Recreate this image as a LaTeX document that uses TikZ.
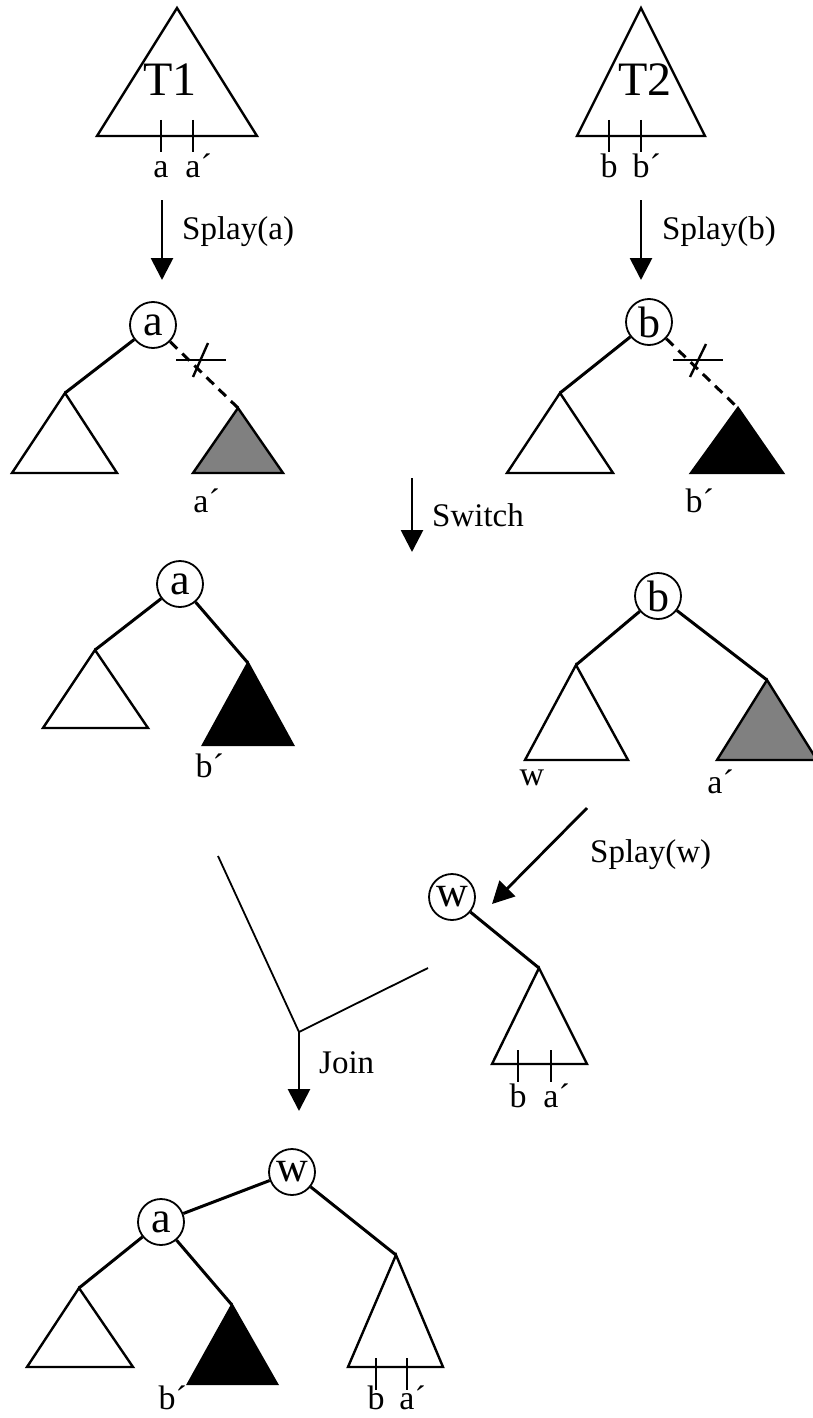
\documentclass[tikz,border=0pt]{standalone}
\usepackage{fontspec}
\setmainfont{Liberation Serif}
\usetikzlibrary{arrows.meta}
\definecolor{midgray}{RGB}{128,128,128}
\begin{document}
\begin{tikzpicture}[x=1pt,y=-1pt,
 tri/.style={line width=2.4pt, line join=miter},
 edge/.style={line width=3pt},
 cut/.style={line width=3pt, dash pattern=on 10pt off 7pt},
 crossmark/.style={line width=2.4pt},
 tick/.style={line width=2.2pt},
 vnode/.style={circle, draw, line width=1.8pt, minimum size=46pt, inner sep=0pt, font=\fontsize{44}{44}\selectfont},
 lbl/.style={font=\fontsize{34}{34}\selectfont, inner sep=0pt, anchor=base},
 big/.style={font=\fontsize{48}{48}\selectfont, inner sep=0pt},
 steparrow/.style={line width=2.8pt, -{Triangle[width=22pt,length=22pt]}},
 op/.style={font=\fontsize{33}{33}\selectfont, inner sep=0pt, anchor=west},
 joinline/.style={line width=1.8pt},
]
\useasboundingbox (0,0) rectangle (812,1418);

% ---------- T1 ----------
\coordinate (t1top) at (177,8);
\draw[tri] (t1top) -- (97,136) -- (257,136) -- cycle;
\node[big] (T1) at (170,80) {T1};
\coordinate (t1k1a) at (161,120); \coordinate (t1k1b) at (161,152);
\coordinate (t1k2a) at (193,120); \coordinate (t1k2b) at (193,152);
\draw[tick] (t1k1a) -- (t1k1b);
\draw[tick] (t1k2a) -- (t1k2b);
\node[lbl] (t1la) at (161,177) {a};
\node[lbl] (t1lb) at (193,177) {a\rlap{´}};

% ---------- T2 ----------
\coordinate (t2top) at (641,8);
\draw[tri] (t2top) -- (577,136) -- (705,136) -- cycle;
\node[big] (T2) at (645,80) {T2};
\coordinate (t2k1a) at (609,120); \coordinate (t2k1b) at (609,152);
\coordinate (t2k2a) at (641,120); \coordinate (t2k2b) at (641,152);
\draw[tick] (t2k1a) -- (t2k1b);
\draw[tick] (t2k2a) -- (t2k2b);
\node[lbl] (t2la) at (609,177) {b};
\node[lbl] (t2lb) at (641,177) {b\rlap{´}};

% ---------- Splay arrows ----------
\coordinate (sa1) at (162,200); \coordinate (sa2) at (162,280);
\draw[steparrow] (sa1) -- (sa2);
\node[op] (sal) at (182,232) {Splay(a)};
\coordinate (sb1) at (641,200); \coordinate (sb2) at (641,280);
\draw[steparrow] (sb1) -- (sb2);
\node[op] (sbl) at (662,232) {Splay(b)};

% ---------- Row 2 left ----------
\node[vnode] (A2) at (153,325) {a};
\coordinate (A2l) at (65,393);
\draw[tri] (A2l) -- (12,473) -- (117,473) -- cycle;
\draw[edge] (A2) -- (A2l);
\coordinate (A2r) at (238,408);
\draw[tri, fill=midgray] (A2r) -- (193,473) -- (283,473) -- cycle;
\draw[cut] (A2) -- (A2r);
\coordinate (xa1) at (176,360); \coordinate (xa2) at (226,360);
\coordinate (xa3) at (193,377); \coordinate (xa4) at (208,343);
\draw[crossmark] (xa1) -- (xa2);
\draw[crossmark] (xa3) -- (xa4);
\node[lbl] (A2lab) at (201,512) {a\rlap{´}};

% ---------- Row 2 right ----------
\node[vnode] (B2) at (649,322) {b};
\coordinate (B2l) at (560,393);
\draw[tri] (B2l) -- (507,473) -- (613,473) -- cycle;
\draw[edge] (B2) -- (B2l);
\coordinate (B2r) at (738,408);
\draw[tri, fill=black] (B2r) -- (691,473) -- (783,473) -- cycle;
\draw[cut] (B2) -- (B2r);
\coordinate (xb1) at (673,360); \coordinate (xb2) at (723,360);
\coordinate (xb3) at (690,377); \coordinate (xb4) at (706,344);
\draw[crossmark] (xb1) -- (xb2);
\draw[crossmark] (xb3) -- (xb4);
\node[lbl] (B2lab) at (694,512) {b\rlap{´}};

% ---------- Switch ----------
\coordinate (sw1) at (412,478); \coordinate (sw2) at (412,552);
\draw[steparrow] (sw1) -- (sw2);
\node[op] (swl) at (432,515) {Switch};

% ---------- Row 3 left ----------
\node[vnode] (A3) at (180,584) {a};
\coordinate (A3l) at (95,650);
\draw[tri] (A3l) -- (43,728) -- (148,728) -- cycle;
\draw[edge] (A3) -- (A3l);
\coordinate (A3r) at (248,663);
\draw[tri, fill=black] (A3r) -- (203,745) -- (293,745) -- cycle;
\draw[edge] (A3) -- (A3r);
\node[lbl] (A3lab) at (204,777) {b\rlap{´}};

% ---------- Row 3 right ----------
\node[vnode] (B3) at (658,596) {b};
\coordinate (B3l) at (576,665);
\draw[tri] (B3l) -- (525,760) -- (628,760) -- cycle;
\draw[edge] (B3) -- (B3l);
\coordinate (B3r) at (767,680);
\draw[tri, fill=midgray] (B3r) -- (717,760) -- (817,760) -- cycle;
\draw[edge] (B3) -- (B3r);
\node[lbl] (B3w) at (532,785) {w};
\node[lbl] (B3a) at (715,793) {a\rlap{´}};

% ---------- Splay(w) ----------
\coordinate (swa) at (587,808); \coordinate (swb) at (492,904);
\draw[steparrow] (swa) -- (swb);
\node[op] (swlab) at (590,855) {Splay(w)};

% ---------- w tree ----------
\node[vnode] (W4) at (452,897) {w};
\coordinate (W4r) at (539,968);
\draw[tri] (W4r) -- (492,1064) -- (587,1064) -- cycle;
\draw[edge] (W4) -- (W4r);
\coordinate (w4k1a) at (518,1050); \coordinate (w4k1b) at (518,1082);
\coordinate (w4k2a) at (551,1050); \coordinate (w4k2b) at (551,1082);
\draw[tick] (w4k1a) -- (w4k1b);
\draw[tick] (w4k2a) -- (w4k2b);
\node[lbl] (w4la) at (518,1107) {b};
\node[lbl] (w4lb) at (551,1107) {a\rlap{´}};

% ---------- Join ----------
\coordinate (j1) at (218,856);
\coordinate (jm) at (299,1032);
\coordinate (j2) at (428,968);
\draw[joinline] (j1) -- (jm) -- (j2);
\coordinate (jt) at (299,1111);
\draw[steparrow] (jm) -- (jt);
\node[op] (jl) at (319,1063) {Join};

% ---------- Final tree ----------
\node[vnode] (W5) at (292,1172) {w};
\node[vnode] (A5) at (161,1222) {a};
\draw[edge] (A5) -- (W5);
\coordinate (A5l) at (79,1288);
\draw[tri] (A5l) -- (27,1367) -- (133,1367) -- cycle;
\draw[edge] (A5) -- (A5l);
\coordinate (A5r) at (232,1305);
\draw[tri, fill=black] (A5r) -- (188,1384) -- (277,1384) -- cycle;
\draw[edge] (A5) -- (A5r);
\node[lbl] (A5lab) at (167,1409) {b\rlap{´}};
\coordinate (W5r) at (396,1255);
\draw[tri] (W5r) -- (348,1367) -- (443,1367) -- cycle;
\draw[edge] (W5) -- (W5r);
\coordinate (w5k1a) at (376,1358); \coordinate (w5k1b) at (376,1390);
\coordinate (w5k2a) at (407,1358); \coordinate (w5k2b) at (407,1390);
\draw[tick] (w5k1a) -- (w5k1b);
\draw[tick] (w5k2a) -- (w5k2b);
\node[lbl] (w5la) at (376,1409) {b};
\node[lbl] (w5lb) at (407,1409) {a\rlap{´}};
\end{tikzpicture}
\end{document}
